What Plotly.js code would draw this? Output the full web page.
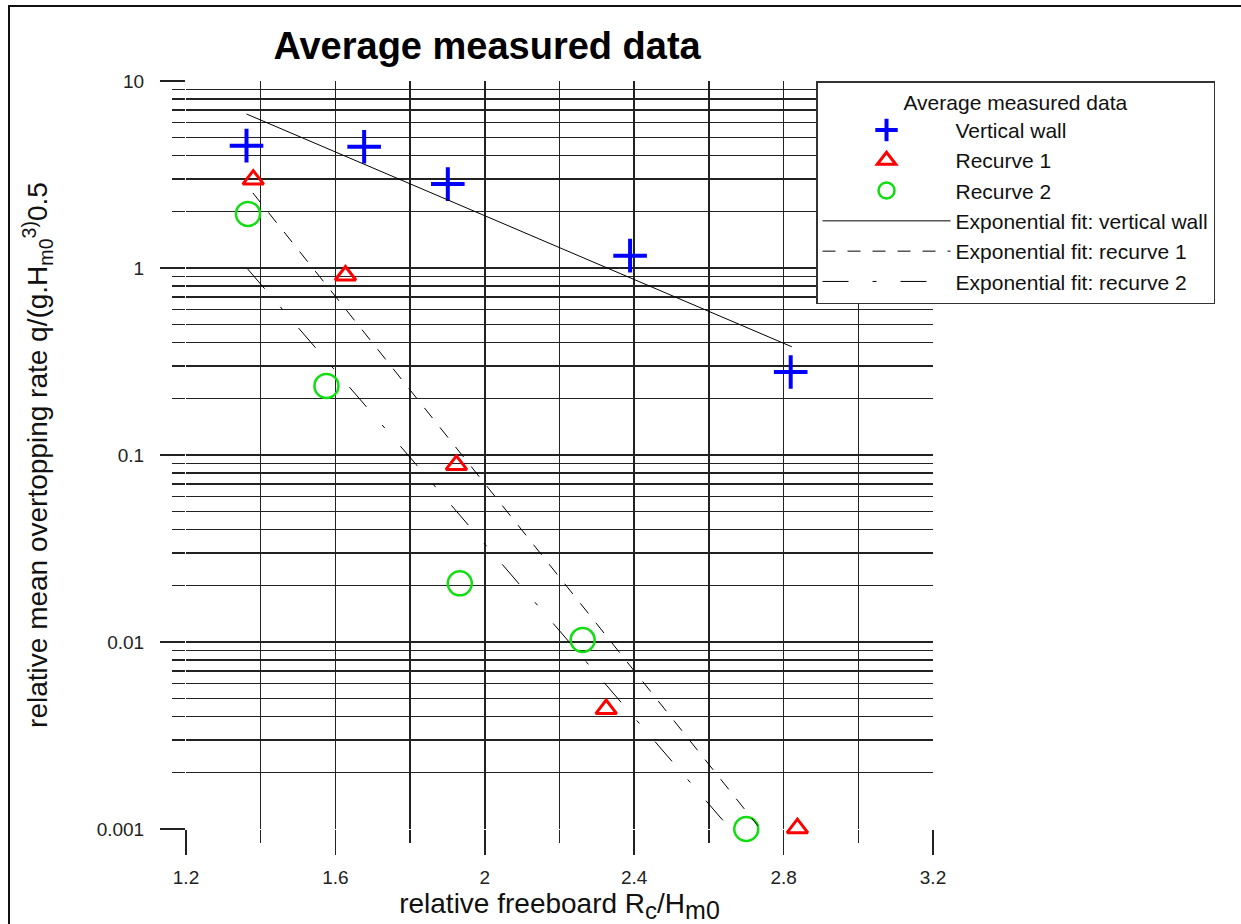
<!DOCTYPE html>
<html>
<head>
<meta charset="utf-8">
<script src="https://cdn.plot.ly/plotly-3.0.1.min.js"></script>
<style>
html,body{margin:0;padding:0;background:#fff;overflow:hidden;}
#frame{position:absolute;left:8px;top:5px;width:1240px;height:940px;border:2px solid #111;box-sizing:border-box;pointer-events:none;z-index:10;}
#chart{position:absolute;left:0;top:0;width:1241px;height:924px;}
</style>
</head>
<body>
<div id="chart"></div>
<div id="frame"></div>
<script>
// Measured data
const wallX = [1.362, 1.677, 1.901, 2.389, 2.819];
const wallY = [4.51, 4.45, 2.81, 1.164, 0.278];
const rec1X = [1.380, 1.627, 1.924, 2.325, 2.837];
const rec1Y = [2.97, 0.912, 0.0885, 0.00438, 0.00101];
const rec2X = [1.366, 1.576, 1.933, 2.262, 2.700];
const rec2Y = [1.945, 0.234, 0.0206, 0.01025, 0.001];

// Exponential fits (straight lines on the log axis, end points)
const fitWallX = [1.362, 2.822];
const fitWallY = [6.66, 0.379];
const fitRec1X = [1.379, 2.731];
const fitRec1Y = [2.52, 0.00104];
const fitRec2X = [1.365, 2.643];
const fitRec2Y = [0.988, 0.00108];

// Axis ticks
const xTickVals = [1.2, 1.6, 2.0, 2.4, 2.8, 3.2];
const xTickText = ['1.2', '1.6', '2', '2.4', '2.8', '3.2'];
const xMinorVals = [1.4, 1.8, 2.2, 2.6, 3.0];
const yTickVals = [0.001, 0.01, 0.1, 1, 10];
const yTickText = ['0.001', '0.01', '0.1', '1', '10'];
const yMinorVals = [];
[0.001, 0.01, 0.1, 1].forEach(d => { for (let k = 2; k <= 9; k++) yMinorVals.push(+(d * k).toPrecision(3)); });

const FONT = '"Liberation Sans", Arial, sans-serif';
const GRID = '#222';
const GW = 1.5;

const traces = [
  {x: wallX, y: wallY, type: 'scatter', mode: 'markers', name: 'Vertical wall', cliponaxis: false,
   marker: {symbol: 'cross-thin', size: 24, color: '#0000ff', line: {color: '#0000ff', width: 4}}},
  {x: rec1X, y: rec1Y, type: 'scatter', mode: 'markers', name: 'Recurve 1', cliponaxis: false,
   marker: {symbol: 'triangle-up-open', size: 18, color: '#ff0000', line: {color: '#ff0000', width: 3}}},
  {x: rec2X, y: rec2Y, type: 'scatter', mode: 'markers', name: 'Recurve 2', cliponaxis: false,
   marker: {symbol: 'circle-open', size: 24, color: '#11dd11', line: {color: '#11dd11', width: 2.5}}},
  {x: fitWallX, y: fitWallY, type: 'scatter', mode: 'lines', name: 'Exponential fit: vertical wall',
   line: {color: '#000', width: 1}},
  {x: fitRec1X, y: fitRec1Y, type: 'scatter', mode: 'lines', name: 'Exponential fit: recurve 1',
   line: {color: '#000', width: 1, dash: '13px,12px'}},
  {x: fitRec2X, y: fitRec2Y, type: 'scatter', mode: 'lines', name: 'Exponential fit: recurve 2',
   line: {color: '#000', width: 1, dash: '26px,24px,4px,24px'}}
];

const layout = {
  width: 1241, height: 924,
  margin: {l: 186, r: 308, t: 81, b: 95, pad: 0},
  paper_bgcolor: '#fff', plot_bgcolor: '#fff',
  font: {family: FONT, color: '#111'},
  title: {text: '<b>Average measured data</b>', font: {family: FONT, size: 38, color: '#000'},
          x: 0.3925, xref: 'container', xanchor: 'center', y: 0.951, yref: 'container', yanchor: 'middle'},
  showlegend: true,
  legend: {
    x: 0.8434, y: 1.0, xanchor: 'left', yanchor: 'top',
    bgcolor: '#fff', bordercolor: '#333', borderwidth: 1.5,
    font: {family: FONT, size: 21, color: '#111'},
    title: {text: 'Average measured data', side: 'top center', font: {family: FONT, size: 21, color: '#111'}},
    itemwidth: 128, traceorder: 'normal'
  },
  xaxis: {
    range: [1.2, 3.2], type: 'linear',
    tickmode: 'array', tickvals: xTickVals, ticktext: xTickText,
    ticks: 'outside', ticklen: 25, tickwidth: GW, tickcolor: GRID,
    showgrid: true, gridcolor: GRID, gridwidth: GW,
    zeroline: false, showline: false,
    tickfont: {family: FONT, size: 19, color: '#222'}, ticklabelstandoff: 6,
    minor: {tickmode: 'array', tickvals: xMinorVals, ticks: 'outside', ticklen: 13, tickwidth: GW,
            tickcolor: GRID, showgrid: true, gridcolor: GRID, gridwidth: GW},
    title: {text: 'relative freeboard R<sub><span style="font-size:24px">c</span></sub>/H<sub><span style="font-size:25px">m0</span></sub>',
            font: {family: FONT, size: 28, color: '#111'}, standoff: 0},
    automargin: false, fixedrange: true
  },
  yaxis: {
    type: 'log', range: [-3, 1],
    tickmode: 'array', tickvals: yTickVals, ticktext: yTickText,
    ticks: 'outside', ticklen: 25, tickwidth: GW, tickcolor: GRID,
    showgrid: true, gridcolor: GRID, gridwidth: GW,
    zeroline: false, showline: false,
    tickfont: {family: FONT, size: 19, color: '#222'}, ticklabelstandoff: 12,
    minor: {tickmode: 'array', tickvals: yMinorVals, ticks: 'outside', ticklen: 13, tickwidth: GW,
            tickcolor: GRID, showgrid: true, gridcolor: GRID, gridwidth: GW},
    title: {text: 'relative mean overtopping rate q/(g.H<sub>m0</sub><sup>3)</sup>0.5', font: {family: FONT, size: 28, color: '#111'}, standoff: 40},
    automargin: false, fixedrange: true
  }
};

Plotly.newPlot('chart', traces, layout, {displayModeBar: false, staticPlot: true});
</script>
</body>
</html>
